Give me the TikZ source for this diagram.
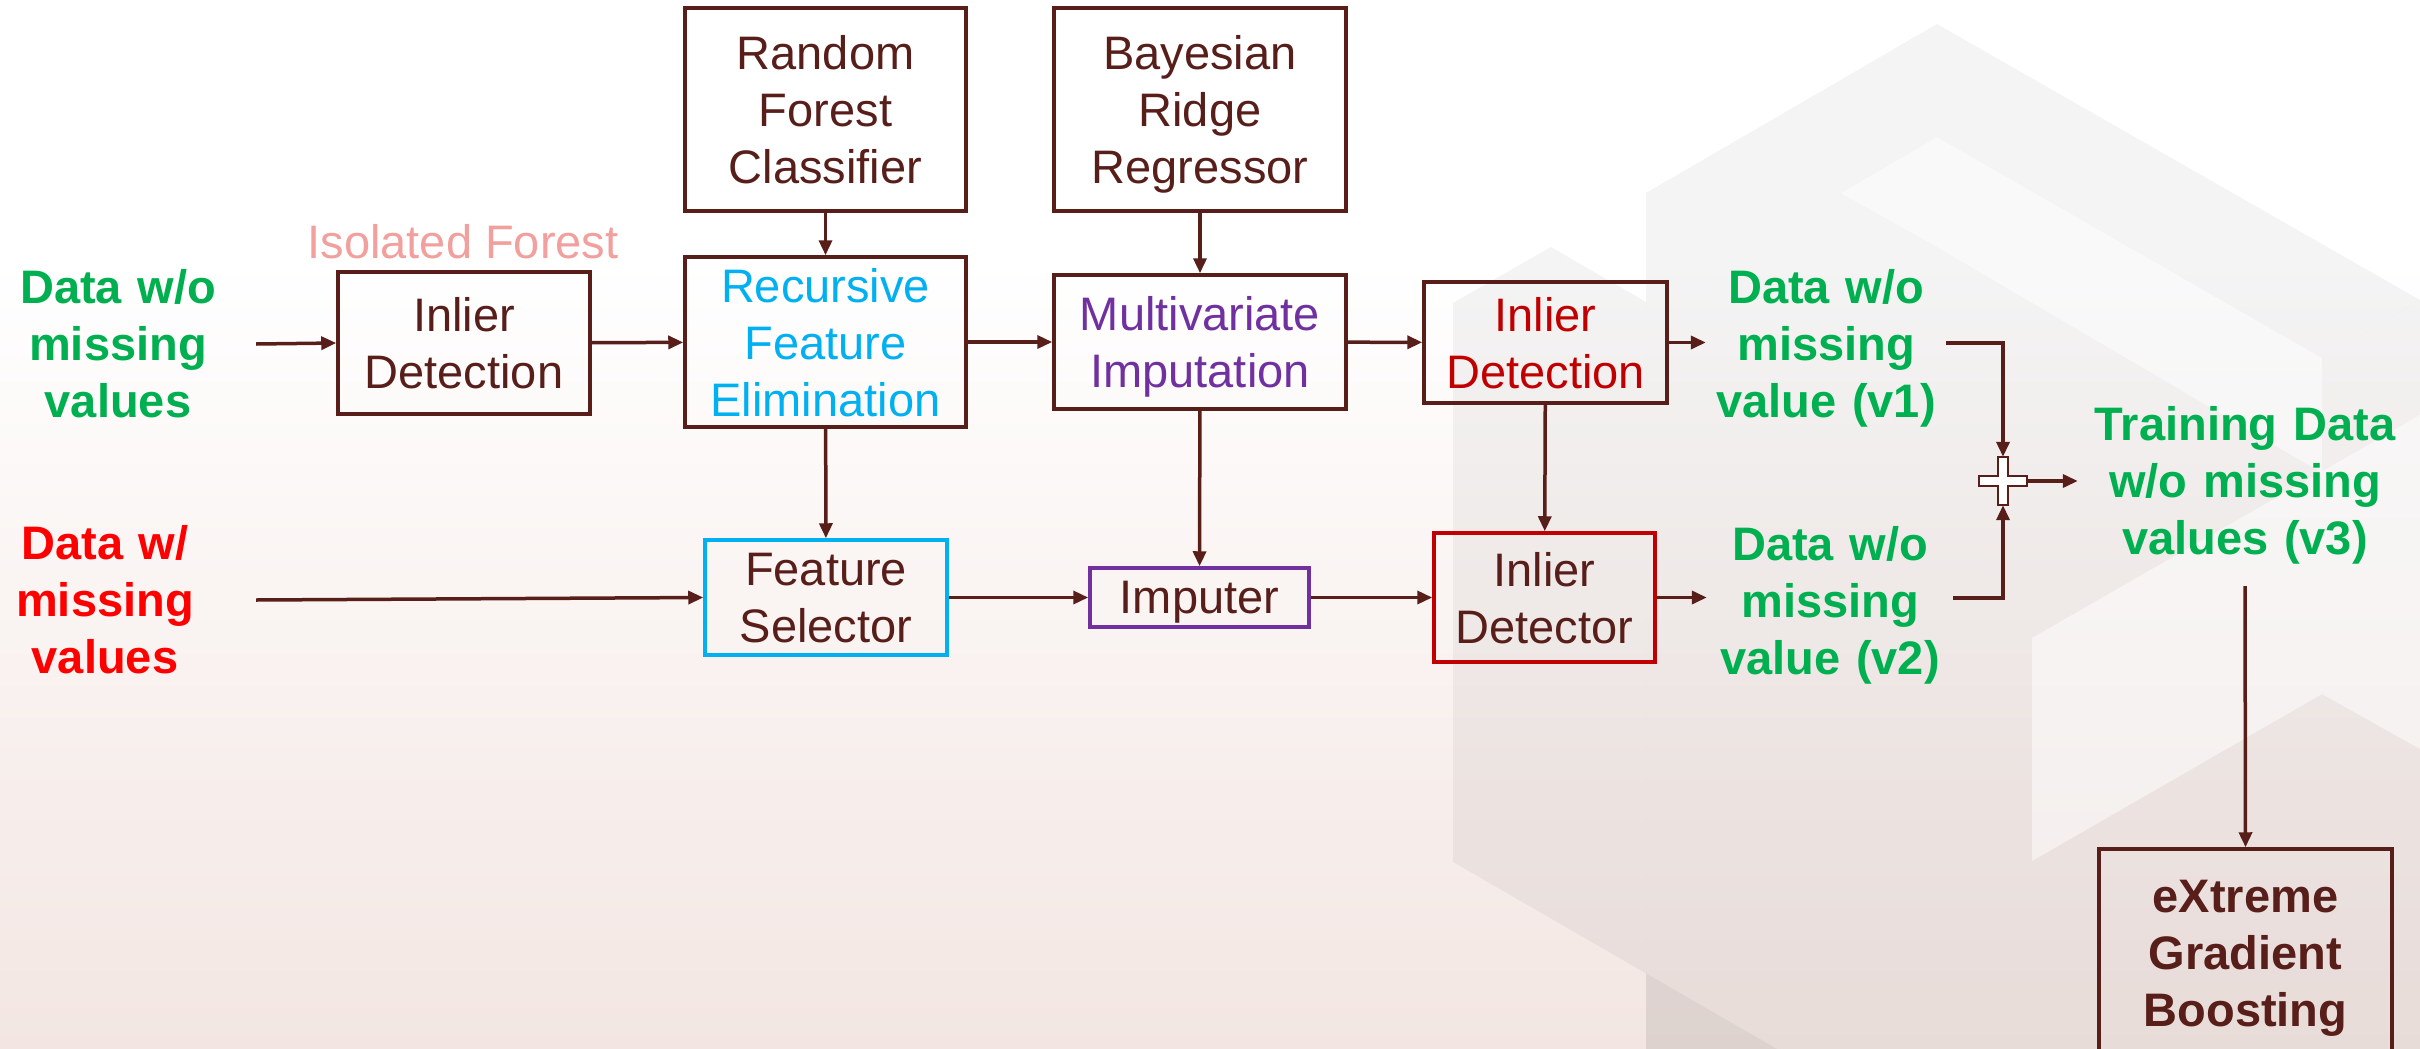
\documentclass[tikz,border=0pt]{standalone}
\usepackage{fontspec}
\setmainfont{Liberation Sans}
\usetikzlibrary{arrows.meta}
\definecolor{brn}{RGB}{88,30,26}
\definecolor{grn}{RGB}{0,176,80}
\definecolor{rd}{RGB}{255,0,0}
\definecolor{cyn}{RGB}{0,176,240}
\definecolor{prp}{RGB}{112,48,160}
\definecolor{drd}{RGB}{192,0,0}
\definecolor{pnk}{RGB}{241,160,158}
\definecolor{bgb}{RGB}{243,230,226}
\begin{document}
\begin{tikzpicture}[x=1pt,y=-1pt,
    every node/.style={font=\fontsize{47}{57}\selectfont, text=brn, align=center},
    box/.style={draw=brn, line width=3.5pt, inner sep=0pt, text depth=0pt},
    lbl/.style={font=\fontsize{47}{57}\selectfont\bfseries, inner xsep=0pt},
    arr/.style={draw=brn, line width=3.5pt, -{Triangle[length=15pt,width=13pt]}},
    wm/.style={fill=black, fill opacity=0.045, draw=none},
    wl/.style={fill=white, fill opacity=0.5, draw=none}]
    \useasboundingbox (0,0) rectangle (2420,1049);
    \clip (0,0) rectangle (2420,1049);
    \fill[white] (0,0) rectangle (2420,260);
    \shade[top color=white, bottom color=bgb] (0,259) rectangle (2420,1049);
    \fill[wm] (1646,193) -- (1937,24) -- (2420,300) -- (2322,358) -- (1937,137) -- (1841,193) -- cycle;
    \fill[wm] (1646,193) -- (1841,193) -- (1937,137) -- (2322,358) -- (2420,300) -- (2420,1049) -- (1646,1049) -- cycle;
    \fill[wm] (1453,303) -- (1551,247) -- (1646,302) -- (1646,1049) -- (1777,1049) -- (1453,862) -- cycle;
    \fill[wl] (1841,193) -- (1937,137) -- (2322,358) -- (2322,473) -- (1937,247) -- cycle;
    \fill[wl] (2032,638) -- (2420,415) -- (2420,749) -- (2322,694) -- (2032,861) -- cycle;

    \node[lbl, text=grn, text width=276pt] (dwo) at (118,344) {Data w/o\\missing\\values};
    \node[lbl, text=rd, text width=302pt] (dw) at (105,600) {Data w/\\missing\\values};
    \node[text=pnk] (iso) at (463,242) {Isolated Forest};
    \node[box, minimum width=252pt, minimum height=142pt] (inl) at (464,343) {Inlier\\Detection};
    \node[box, minimum width=281pt, minimum height=203pt] (rfc) at (825.5,109.5) {Random\\Forest\\Classifier};
    \node[box, text=cyn, minimum width=281pt, minimum height=170pt] (rfe) at (825.5,342) {Recursive\\Feature\\Elimination};
    \node[box, minimum width=292pt, minimum height=203pt] (brr) at (1200,109.5) {Bayesian\\Ridge\\Regressor};
    \node[box, text=prp, minimum width=292pt, minimum height=134pt] (mvi) at (1200,342) {Multivariate\\Imputation};
    \node[box, text=drd, minimum width=243pt, minimum height=121pt] (inl2) at (1545.5,342.5) {Inlier\\Detection};
    \node[box, draw=cyn, minimum width=242pt, minimum height=115pt] (fsel) at (826,597.5) {Feature\\Selector};
    \node[box, draw=prp, minimum width=219pt, minimum height=59pt] (imp) at (1199.5,597.5) {Imputer};
    \node[box, draw=drd, minimum width=221pt, minimum height=129pt] (idet) at (1544.5,597.5) {Inlier\\Detector};
    \node[lbl, text=grn, text width=240pt] (v1) at (1826,348) {Data w/o\\missing\\value (v1)};
    \node[lbl, text=grn, text width=246pt] (v2) at (1830,605) {Data w/o\\missing\\value (v2)};
    \node[lbl, text=grn, text width=334pt, inner ysep=22pt] (v3) at (2245,485) {Training Data\\w/o missing\\values (v3)};
    \node[inner sep=0pt, minimum size=48pt] (sum) at (2003,481) {};
    \node[box, font=\fontsize{47}{57}\selectfont\bfseries, minimum width=293pt, minimum height=208pt] (xgb) at (2245.5,953) {eXtreme\\Gradient\\Boosting};

    \draw[brn, line width=2.5pt, fill=white] (sum.center) ++(-5,-24) -- ++(10,0) -- ++(0,19) -- ++(19,0) -- ++(0,10) -- ++(-19,0) -- ++(0,19) -- ++(-10,0) -- ++(0,-19) -- ++(-19,0) -- ++(0,-10) -- ++(19,0) -- cycle;

    \draw[arr] (dwo.east) -- (inl.west);
    \draw[arr] (inl) -- (rfe);
    \draw[arr] (rfc) -- (rfe);
    \draw[arr] (rfe) -- (mvi);
    \draw[arr] (brr) -- (mvi);
    \draw[arr] (mvi) -- (inl2);
    \draw[arr] (inl2.east) -- (inl2.east -| v1.west);
    \draw[arr] ([yshift=5pt]v1.east) -| (sum.north);
    \draw[arr] ([yshift=7pt]v2.east) -| (sum.south);
    \draw[arr] (sum.east) -- (sum.east -| v3.west);
    \draw[arr] (v3.south) -- (xgb.north);
    \draw[arr] (rfe) -- (fsel);
    \draw[arr] (dw.east) -- (fsel.west);
    \draw[arr] (fsel) -- (imp);
    \draw[arr] (mvi) -- (imp);
    \draw[arr] (imp) -- (idet);
    \draw[arr] (inl2) -- (idet);
    \draw[arr] (idet.east) -- (idet.east -| v2.west);
\end{tikzpicture}
\end{document}
